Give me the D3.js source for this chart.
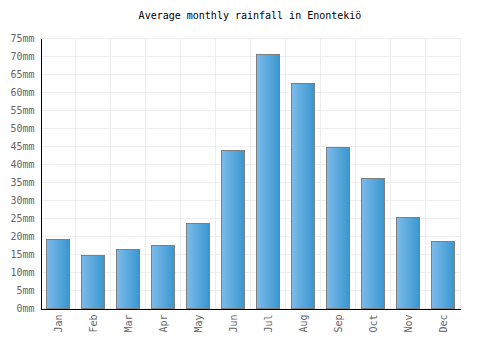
<!DOCTYPE html>
<html>
<head>
<meta charset="utf-8">
<script src="https://cdn.jsdelivr.net/npm/d3@7"></script>
<style>
  body { margin: 0; background: #fff; }
  svg { display: block; }
  text { font-family: "DejaVu Sans Mono", "Liberation Mono", monospace; }
</style>
</head>
<body>
<svg id="chart" width="500" height="350"></svg>
<script>
const months = ["Jan", "Feb", "Mar", "Apr", "May", "Jun", "Jul", "Aug", "Sep", "Oct", "Nov", "Dec"];
const rainfall = [19.1, 14.7, 16.3, 17.5, 23.5, 44, 70.5, 62.4, 44.7, 36.1, 25.2, 18.6];
const yTicks = d3.range(0, 80, 5);

const title = "Average monthly rainfall in Enontekiö";

const ctx = { left: 40, right: 460, top: 38, bottom: 308 };

var svg = d3.select("#chart");

var defs = svg.append("defs");
var grad = defs.append("linearGradient")
    .attr("id", "barGrad")
    .attr("x1", "0%").attr("x2", "100%")
    .attr("y1", "0%").attr("y2", "0%");
grad.append("stop").attr("offset", "0%").attr("stop-color", "#7dbbeb");
grad.append("stop").attr("offset", "100%").attr("stop-color", "#3897cf");

var xScale = d3.scaleBand()
    .domain(months)
    .range([ctx.left, ctx.right])
    .paddingInner(0.31)
    .paddingOuter(0.155);

var yScale = d3.scaleLinear()
    .domain([0, 75])
    .range([ctx.bottom, ctx.top]);

// grid
var grid = svg.append("g").attr("shape-rendering", "crispEdges");
grid.selectAll("line.h")
    .data(yTicks)
    .enter()
    .append("line")
    .attr("x1", ctx.left).attr("x2", ctx.right)
    .attr("y1", d => Math.round(yScale(d)) + 0.5)
    .attr("y2", d => Math.round(yScale(d)) + 0.5)
    .attr("stroke", "#eeeeee");

var bandEdges = months.map((m, i) => ctx.left + i * (ctx.right - ctx.left) / months.length).concat([ctx.right]);
grid.selectAll("line.v")
    .data(bandEdges.slice(1))
    .enter()
    .append("line")
    .attr("y1", ctx.top).attr("y2", ctx.bottom)
    .attr("x1", d => Math.round(d) + 0.5)
    .attr("x2", d => Math.round(d) + 0.5)
    .attr("stroke", "#eeeeee");

// bars
svg.append("g")
    .selectAll("rect")
    .data(rainfall)
    .enter()
    .append("rect")
    .attr("x", (d, i) => Math.ceil(xScale(months[i])) + 0.5)
    .attr("y", d => Math.round(yScale(d)) + 0.5)
    .attr("width", Math.floor(xScale.bandwidth()) - 1)
    .attr("height", d => Math.round(ctx.bottom - yScale(d)))
    .attr("fill", "url(#barGrad)")
    .attr("stroke", "#7f7f7f")
    .attr("stroke-width", 1);

// y axis
var yAxis = d3.axisLeft(yScale)
    .tickValues(yTicks)
    .tickSize(0)
    .tickPadding(6)
    .tickFormat(d => d + "mm");

svg.append("g")
    .attr("transform", "translate(" + (ctx.left + 0.5) + ",0)")
    .call(yAxis)
    .call(g => g.select(".domain").attr("stroke", "#000").attr("shape-rendering", "crispEdges"))
    .call(g => g.selectAll(".tick text")
        .attr("fill", "#666")
        .style("font-size", "10px")
        .style("font-family", "'DejaVu Sans Mono', monospace"));

// x axis
var xAxis = d3.axisBottom(xScale).tickSize(0).tickPadding(6);

svg.append("g")
    .attr("transform", "translate(0," + (ctx.bottom + 0.5) + ")")
    .call(xAxis)
    .call(g => g.select(".domain").attr("stroke", "#000").attr("shape-rendering", "crispEdges"))
    .call(g => g.selectAll(".tick text")
        .attr("fill", "#666")
        .style("font-size", "10px")
        .style("font-family", "'DejaVu Sans Mono', monospace")
        .style("text-anchor", "end")
        .attr("transform", "rotate(-90)")
        .attr("x", -6)
        .attr("y", 1)
        .attr("dy", "0.35em"));

// title
svg.append("text")
    .attr("x", 250)
    .attr("y", 19)
    .attr("text-anchor", "middle")
    .attr("fill", "#000")
    .style("font-size", "10px")
    .text(title);
</script>
</body>
</html>
